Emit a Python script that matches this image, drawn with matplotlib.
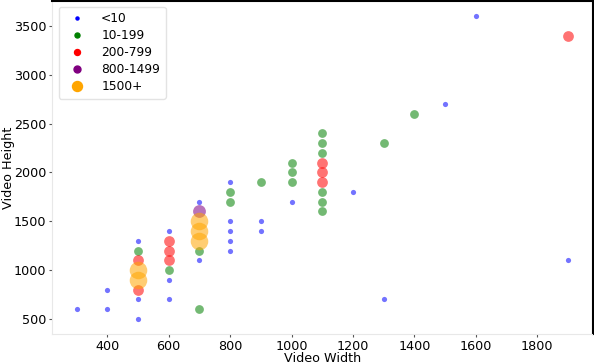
import matplotlib.pyplot as plt
from matplotlib.lines import Line2D

# view count buckets -> (width, height) pairs
labels = ["<10", "10-199", "200-799", "800-1499", "1500+"]
colors = ["blue", "green", "red", "purple", "orange"]
sizes = [14, 40, 60, 85, 160]
legend_ms = [2.2, 3.6, 4.3, 5.0, 7.2]

blue_w = [300, 400, 400, 500, 500, 500, 600, 600, 600, 700, 700, 800, 800, 800, 800, 800,
          900, 900, 1000, 1200, 1300, 1500, 1600, 1900]
blue_h = [600, 600, 800, 500, 700, 1300, 700, 900, 1400, 1100, 1700, 1200, 1300, 1400, 1500, 1900,
          1400, 1500, 1700, 1800, 700, 2700, 3600, 1100]

green_w = [500, 600, 700, 700, 800, 800, 900, 1000, 1000, 1000, 1100, 1100, 1100, 1100, 1100, 1100,
           1300, 1400]
green_h = [1200, 1000, 600, 1200, 1700, 1800, 1900, 1900, 2000, 2100, 1600, 1700, 1800, 2200, 2300, 2400,
           2300, 2600]

red_w = [500, 500, 600, 600, 600, 1100, 1100, 1100, 1900]
red_h = [800, 1100, 1100, 1200, 1300, 1900, 2000, 2100, 3400]

purple_w = [700]
purple_h = [1600]

orange_w = [500, 500, 700, 700, 700]
orange_h = [900, 1000, 1300, 1400, 1500]

groups = [(blue_w, blue_h), (green_w, green_h), (red_w, red_h),
          (purple_w, purple_h), (orange_w, orange_h)]

fig = plt.figure(figsize=(5.94, 3.64), dpi=100)
ax = fig.add_axes([52 / 594, 30 / 364, 540.5 / 594, 333 / 364])

for (w, h), c, s in zip(groups, colors, sizes):
    ax.scatter(w, h, s=s, c=c, alpha=0.55, linewidths=0)

ax.set_xlim(220, 1980)
ax.set_ylim(345, 3755)
ax.set_xticks([400, 600, 800, 1000, 1200, 1400, 1600, 1800])
ax.set_yticks([500, 1000, 1500, 2000, 2500, 3000, 3500])
ax.tick_params(labelsize=9.2, length=2.5, pad=1.5, color="#555555")
ax.set_xlabel("Video Width", fontsize=9.2, labelpad=-0.5)
ax.set_ylabel("Video Height", fontsize=9.2, labelpad=-0.5)

for side in ["left", "bottom"]:
    ax.spines[side].set_color("#e8e8e8")
for side in ["top", "right"]:
    ax.spines[side].set_color("black")
    ax.spines[side].set_linewidth(1.5)

handles = [Line2D([], [], ls="none", marker="o", color=c, markersize=m)
           for c, m in zip(colors, legend_ms)]
ax.legend(handles, labels, loc="upper left", fontsize=8.8, frameon=True,
          edgecolor="#dddddd", borderpad=0.45, labelspacing=0.32,
          handletextpad=1.0, borderaxespad=0,
          bbox_to_anchor=(7 / 540, 1 - 6 / 333))

fig.savefig("out.png", dpi=100)
